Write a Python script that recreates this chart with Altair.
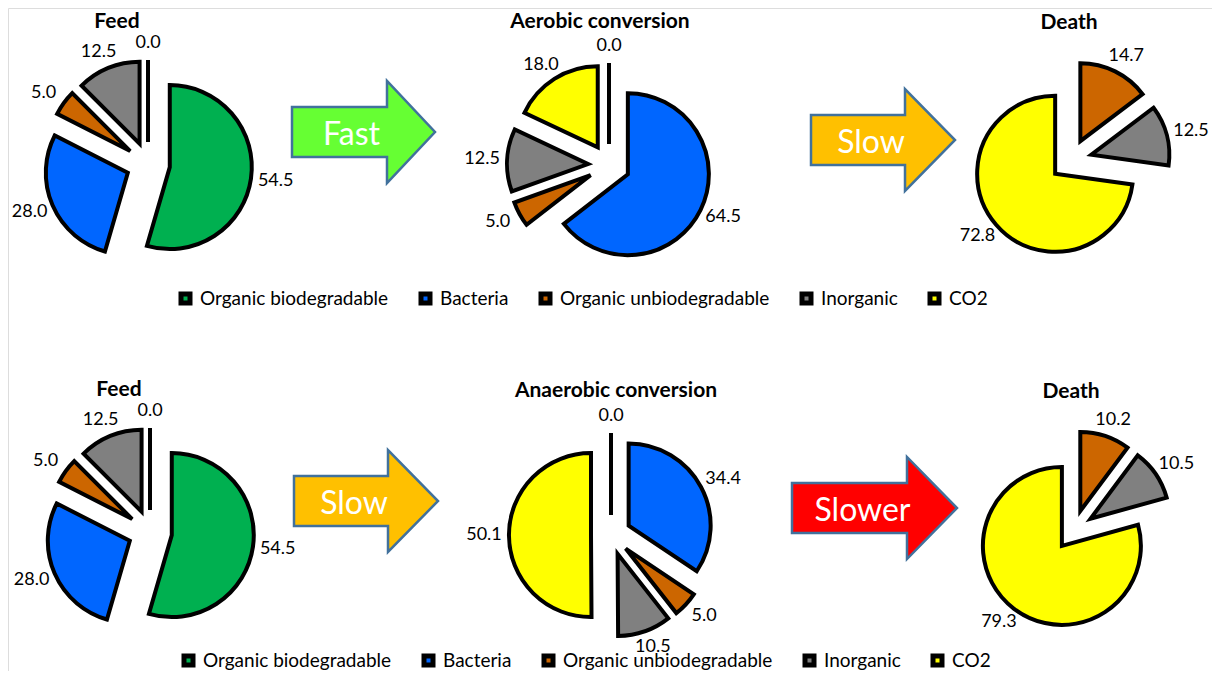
import altair as alt
import pandas as pd

# ---------------- data ----------------
CATEGORIES = ["Organic biodegradable", "Bacteria", "Organic unbiodegradable", "Inorganic", "CO2"]
DEATH_CATEGORIES = ["Organic unbiodegradable", "Inorganic", "CO2"]

FEED_TOP = [54.5, 28.0, 5.0, 12.5, 0.0]
AEROBIC = [0.0, 64.5, 5.0, 12.5, 18.0]
DEATH_TOP = [14.7, 12.5, 72.8]
FEED_BOTTOM = [54.5, 28.0, 5.0, 12.5, 0.0]
ANAEROBIC = [0.0, 34.4, 5.0, 10.5, 50.1]
DEATH_BOTTOM = [10.2, 10.5, 79.3]

TITLES = ["Feed", "Aerobic conversion", "Death", "Feed", "Anaerobic conversion", "Death"]
ARROW_LABELS = ["Fast", "Slow", "Slow", "Slower"]

# ---------------- styles / layout ----------------
COLORS = ["#00B050", "#0066FF", "#CC6600", "#808080", "#FFFF00"]
ARROW_FILLS = ["#66FF33", "#FFC000", "#FFC000", "#FF0000"]
FONT = "Lato"
W, H = 1204, 663
XS = alt.Scale(domain=[8, 8 + W], nice=False, zero=False)
YS = alt.Scale(domain=[8, 8 + H], nice=False, zero=False, reverse=True)
CS = alt.Scale(domain=CATEGORIES, range=COLORS)

# (cx, cy, radius, explode, title_x, title_y)
PIE_LAYOUT = [
    (148, 164, 82, 22, 117, 22),
    (609, 165, 81, 21, 600, 22),
    (1071, 160, 78, 21, 1069, 23),
    (150, 532, 82, 22, 119, 390),
    (611, 535, 82, 20, 616, 391),
    (1074, 530, 79, 20, 1071, 392),
]
# (x_left, x_right, center_y, neck_from_tip)
ARROW_LAYOUT = [
    (292, 435, 132, 48),
    (811, 955, 140, 50),
    (294, 438, 501, 50),
    (792, 957, 508, 50),
]
LEGEND_POS = [(168, 281), (171, 643)]

GAP, HW, HH = 8, 17, 9


def pie_layers(cats, values, title, layout, legend):
    cx, cy, r, d, tx, ty = layout
    df = pd.DataFrame({"category": cats, "value": values, "order": list(range(len(cats)))})
    base = (
        alt.Chart(df)
        .transform_window(cum="sum(value)", sort=[alt.SortField("order")], frame=[None, 0])
        .transform_joinaggregate(total="sum(value)")
        .transform_calculate(
            t0="2*PI*(datum.cum - datum.value)/datum.total",
            t1="2*PI*datum.cum/datum.total",
        )
        .transform_calculate(mid="(datum.t0 + datum.t1)/2")
        .transform_calculate(
            px=f"{cx} + {d}*sin(datum.mid)",
            py=f"{cy} - {d}*cos(datum.mid)",
            lx=f"{cx} + sin(datum.mid)*{r + d + GAP + HW}",
            ly=f"{cy} - cos(datum.mid)*{r + d + GAP + HH}",
        )
    )
    arcs = base.mark_arc(radius=r, stroke="black", strokeWidth=4, strokeMiterLimit=6).encode(
        x=alt.X("px:Q", scale=XS, axis=None),
        y=alt.Y("py:Q", scale=YS, axis=None),
        theta=alt.Theta("t0:Q", scale=None, stack=None),
        theta2=alt.Theta2("t1:Q"),
        color=alt.Color("category:N", scale=CS, legend=legend),
    )
    labels = base.mark_text(font=FONT, fontSize=18, color="black", baseline="middle").encode(
        x=alt.X("lx:Q", scale=XS, axis=None),
        y=alt.Y("ly:Q", scale=YS, axis=None),
        text=alt.Text("value:Q", format=".1f"),
    )
    ttl = alt.Chart(pd.DataFrame({"t": [title]})).mark_text(
        font=FONT, fontSize=21, fontWeight="bold", color="black", baseline="middle"
    ).encode(
        x=alt.X(datum=tx, type="quantitative", scale=XS, axis=None),
        y=alt.Y(datum=ty, type="quantitative", scale=YS, axis=None),
        text="t:N",
    )
    return [arcs, labels, ttl]


def arrow_layers(label, fill, layout):
    xl, xr, yc, neck = layout
    w = xr - xl
    half = w / 2.0
    body = 25 / half
    head = 51 / half
    nx = 1 - neck / half
    path = (
        f"M -1 {-body:.4f} L {nx:.4f} {-body:.4f} L {nx:.4f} {-head:.4f} L 1 0 "
        f"L {nx:.4f} {head:.4f} L {nx:.4f} {body:.4f} L -1 {body:.4f} Z"
    )
    df = pd.DataFrame({"label": [label]})
    cx = (xl + xr) / 2.0
    shape = alt.Chart(df).mark_point(
        shape=path, size=w * w, filled=True, fill=fill, stroke="#41719C",
        strokeWidth=2.5, opacity=1, strokeJoin="miter",
    ).encode(
        x=alt.X(datum=cx, type="quantitative", scale=XS, axis=None),
        y=alt.Y(datum=yc, type="quantitative", scale=YS, axis=None),
    )
    txt = alt.Chart(df).mark_text(
        font=FONT, fontSize=32, color="white", baseline="middle"
    ).encode(
        x=alt.X(datum=cx - 12, type="quantitative", scale=XS, axis=None),
        y=alt.Y(datum=yc + 3, type="quantitative", scale=YS, axis=None),
        text="label:N",
    )
    return [shape, txt]


def make_legend(pos):
    lx, ly = pos
    return alt.Legend(
        orient="none", legendX=lx, legendY=ly, direction="horizontal", columns=5,
        title=None, symbolType="square", symbolSize=81, symbolStrokeColor="black",
        symbolStrokeWidth=5, symbolOpacity=1, labelFont=FONT, labelFontSize=19,
        labelColor="black", labelLimit=400, columnPadding=22, labelOffset=5, padding=0,
    )


layers = []
layers += pie_layers(CATEGORIES, FEED_TOP, TITLES[0], PIE_LAYOUT[0], make_legend(LEGEND_POS[0]))
layers += pie_layers(CATEGORIES, AEROBIC, TITLES[1], PIE_LAYOUT[1], None)
layers += pie_layers(DEATH_CATEGORIES, DEATH_TOP, TITLES[2], PIE_LAYOUT[2], None)
layers += pie_layers(CATEGORIES, FEED_BOTTOM, TITLES[3], PIE_LAYOUT[3], make_legend(LEGEND_POS[1]))
layers += pie_layers(CATEGORIES, ANAEROBIC, TITLES[4], PIE_LAYOUT[4], None)
layers += pie_layers(DEATH_CATEGORIES, DEATH_BOTTOM, TITLES[5], PIE_LAYOUT[5], None)
for lab, fill, lay in zip(ARROW_LABELS, ARROW_FILLS, ARROW_LAYOUT):
    layers += arrow_layers(lab, fill, lay)

chart = (
    alt.layer(*layers)
    .resolve_scale(color="independent")
    .properties(width=W, height=H, padding=0, autosize=alt.AutoSizeParams(type="none"))
    .configure_view(stroke=None)
    .configure(font=FONT, background="white")
)

chart.save("out.html", embed_options={"renderer": "svg", "actions": False})
